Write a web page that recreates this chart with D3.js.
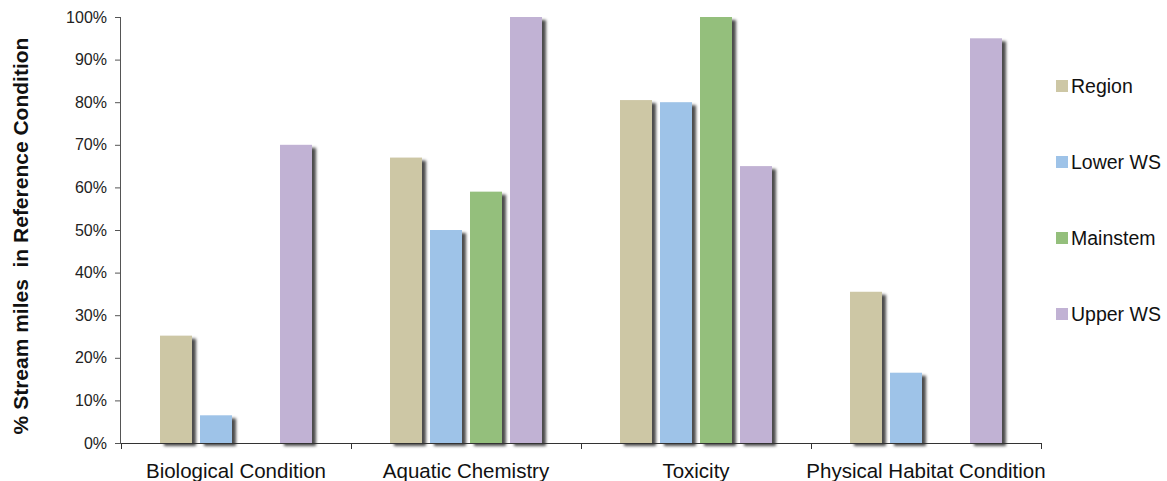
<!DOCTYPE html>
<html>
<head>
<meta charset="utf-8">
<script src="https://cdn.jsdelivr.net/npm/d3@7/dist/d3.min.js"></script>
<style>
  html, body { margin: 0; padding: 0; background: #fff; overflow: hidden; }
  svg { display: block; font-family: "Liberation Sans", Arial, sans-serif; }
</style>
</head>
<body>
<svg id="chart" width="1167" height="481"></svg>
<script>
// Indicator categories along the x axis
const categories = ["Biological Condition", "Aquatic Chemistry", "Toxicity", "Physical Habitat Condition"];
// Series (watershed groupings)
const seriesNames = ["Region", "Lower WS", "Mainstem", "Upper WS"];
const seriesColors = ["#cdc7a5", "#9ec3e8", "#94bf7c", "#c1b2d4"];
// Percent of stream miles in reference condition, one array per series
const region   = [25.2, 67, 80.5, 35.5];
const lowerWS  = [6.5, 50, 80, 16.5];
const mainstem = [0, 59, 100, 0];
const upperWS  = [70, 100, 65, 95];
const yTicks = [0, 10, 20, 30, 40, 50, 60, 70, 80, 90, 100];
const yTitle = "% Stream miles  in Reference Condition";

const seriesValues = [region, lowerWS, mainstem, upperWS];

const svg = d3.select("#chart");
const plotLeft = 121, plotRight = 1041, plotTop = 17, plotBottom = 443;

const x0 = d3.scaleBand().domain(categories).range([plotLeft, plotRight]).paddingInner(0).paddingOuter(0);
const x1 = d3.scaleBand().domain(seriesNames).range([0, 152]).paddingInner(0.2).paddingOuter(0);
const y = d3.scaleLinear().domain([0, 100]).range([plotBottom, plotTop]);

// Soft drop shadow behind bars
const defs = svg.append("defs");
const f = defs.append("filter").attr("id", "shadow")
  .attr("x", "-30%").attr("y", "-10%").attr("width", "180%").attr("height", "130%");
f.append("feDropShadow").attr("dx", 4).attr("dy", 3).attr("stdDeviation", 1.8)
  .attr("flood-color", "#000").attr("flood-opacity", 0.7);

// Bars
const groups = svg.append("g").selectAll("g").data(categories).join("g")
  .attr("transform", d => `translate(${x0(d) + (x0.bandwidth() - 152) / 2},0)`);

groups.each(function(cat, ci) {
  const g = d3.select(this);
  seriesNames.forEach((s, si) => {
    const v = seriesValues[si][ci];
    if (v <= 0) return;
    g.append("rect")
      .attr("x", x1(s))
      .attr("y", y(v))
      .attr("width", x1.bandwidth())
      .attr("height", y(0) - y(v))
      .attr("fill", seriesColors[si])
      .attr("filter", "url(#shadow)");
  });
});

// Y axis
const yAxis = d3.axisLeft(y).tickValues(yTicks).tickFormat(d => d + "%").tickSize(6).tickPadding(8);
const gy = svg.append("g").attr("transform", `translate(${plotLeft},0)`).call(yAxis);
gy.select(".domain").attr("stroke", "#555").attr("d", `M-0.5,${plotTop}V${plotBottom}`);
gy.selectAll(".tick line").attr("stroke", "#555");
gy.selectAll(".tick text").attr("font-size", 16).attr("fill", "#222")
  .attr("font-family", "Liberation Sans, Arial, sans-serif");

// X axis with tick marks between categories
const gx = svg.append("g").attr("transform", `translate(0,${plotBottom})`);
gx.append("line").attr("x1", plotLeft).attr("x2", plotRight).attr("y1", 0.5).attr("y2", 0.5).attr("stroke", "#333");
const boundaries = categories.map(c => x0(c)).concat([plotRight]);
gx.selectAll("line.tk").data(boundaries).join("line").attr("class", "tk")
  .attr("x1", d => d + 0.5).attr("x2", d => d + 0.5).attr("y1", 0).attr("y2", 6).attr("stroke", "#333");
gx.selectAll("text").data(categories).join("text")
  .attr("x", d => x0(d) + x0.bandwidth() / 2)
  .attr("y", 35)
  .attr("text-anchor", "middle")
  .attr("font-size", 20.5)
  .attr("fill", "#111")
  .text(d => d);

// Y axis title
svg.append("text")
  .attr("transform", `translate(28,${(plotTop + plotBottom) / 2 + 6}) rotate(-90)`)
  .attr("text-anchor", "middle")
  .attr("font-size", 21)
  .attr("font-weight", "bold")
  .attr("fill", "#111")
  .style("white-space", "pre")
  .text(yTitle);

// Legend
const legend = svg.append("g").selectAll("g").data(seriesNames).join("g")
  .attr("transform", (d, i) => `translate(1056,${86 + i * 76})`);
legend.append("rect").attr("x", 0).attr("y", -6).attr("width", 12).attr("height", 12)
  .attr("fill", (d, i) => seriesColors[i]);
legend.append("text").attr("x", 15).attr("y", 7).attr("font-size", 19.5).attr("fill", "#111").text(d => d);
</script>
</body>
</html>
